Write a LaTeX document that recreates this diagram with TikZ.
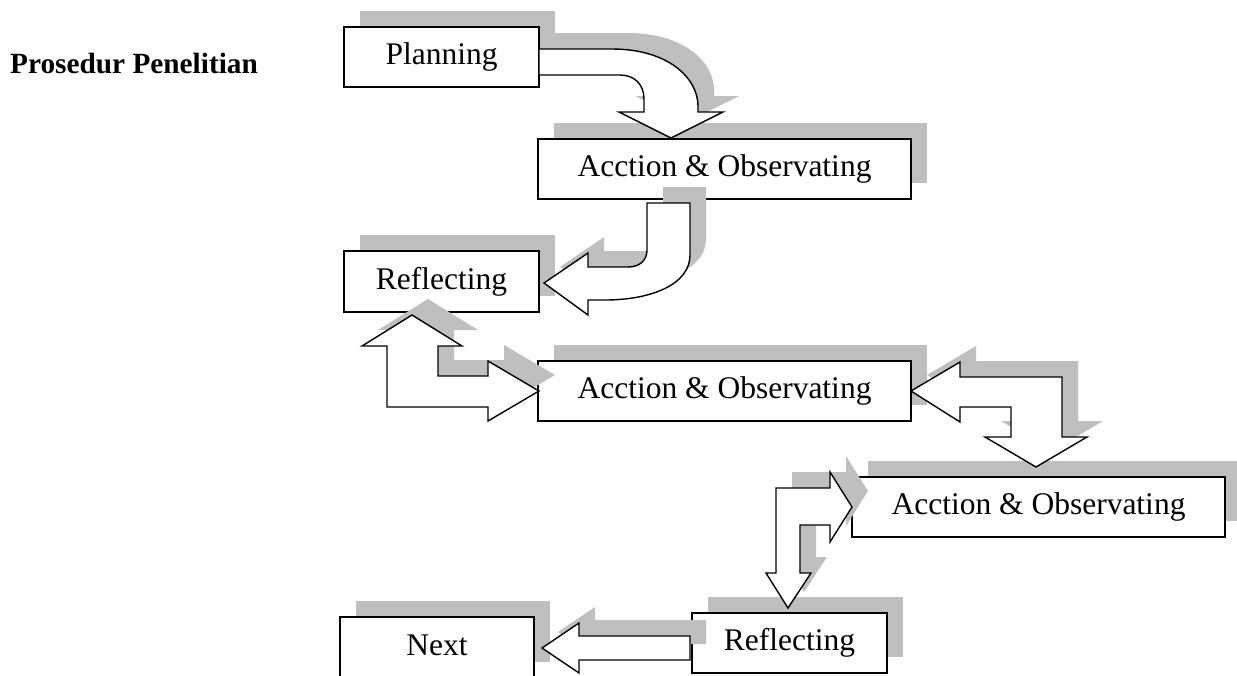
\documentclass[tikz,border=0pt]{standalone}
\usepackage{fontspec}
\setmainfont{Liberation Serif}
\definecolor{shadowgray}{RGB}{191,191,191}
\tikzset{
  box/.style={draw=black, fill=white, line width=1.4pt, inner sep=0pt,
    font=\fontsize{31.5pt}{36pt}\selectfont, text height=22pt, text depth=7pt},
  boxshadow/.style={fill=shadowgray, draw=none},
  blockarrow/.style={draw=black, fill=white, line width=1.4pt, line join=miter},
  arrowshadow/.style={fill=shadowgray, draw=none, shift={(16,-16)}},
}
\newcommand\pathA{(539,49) -- (612,49) .. controls (668,49) and (698,78) .. (698,106) -- (698,112) -- (723,112) -- (671,138) -- (619,112) -- (644,112) -- (644,99) .. controls (644,84) and (634,75) .. (620,75) -- (539,75) -- cycle}
\newcommand\pathB{(647,203) -- (690,203) -- (690,255) .. controls (690,285) and (650,300) .. (605,300) -- (588,300) -- (588,315) -- (544,283) -- (588,253) -- (588,267) -- (628,267) .. controls (640,267) and (647,260) .. (647,250) -- cycle}
\newcommand\pathC{(412,315) -- (462,346) -- (438,346) -- (438,376) -- (488,376) -- (488,361) -- (539,391) -- (488,421) -- (488,407) -- (387,407) -- (387,346) -- (362,346) -- cycle}
\newcommand\pathD{(911,391) -- (960,362) -- (960,377) -- (1062,377) -- (1062,437) -- (1087,437) -- (1036,467) -- (985,437) -- (1011,437) -- (1011,407) -- (960,407) -- (960,422) -- cycle}
\newcommand\pathE{(852,507) -- (830,472) -- (830,488) -- (776,488) -- (776,573) -- (766,573) -- (788,608) -- (811,573) -- (800,573) -- (800,525) -- (830,525) -- (830,542) -- cycle}
\newcommand\pathF{(542,648) -- (579,623) -- (579,636) -- (690,636) -- (690,660) -- (579,660) -- (579,673) -- cycle}
\begin{document}
\begin{tikzpicture}[x=1pt,y=-1pt]
\useasboundingbox (0,0) rectangle (1237,675);
\clip (0,0) rectangle (1237,675);
% title
\node[anchor=base west, inner sep=0pt, font=\fontsize{29.3pt}{34pt}\selectfont\bfseries] (title) at (10,73) {Prosedur Penelitian};
% box shadows
\fill[boxshadow] (360,11) rectangle (555,71);
\fill[boxshadow] (554,123) rectangle (927,183);
\fill[boxshadow] (360,235) rectangle (555,296);
\fill[boxshadow] (554,345) rectangle (927,405);
\fill[boxshadow] (868,461) rectangle (1241,521);
\fill[boxshadow] (708,597) rectangle (903,657);
\fill[boxshadow] (356,601) rectangle (550,662);
% boxes
\node[box, minimum width=195pt, minimum height=60pt] (plan) at (441.5,57) {Planning};
\node[box, minimum width=373pt, minimum height=60pt] (act1) at (724.5,169) {Acction \& Observating};
\node[box, minimum width=195pt, minimum height=61pt] (ref1) at (441.5,281.5) {Reflecting};
\node[box, minimum width=373pt, minimum height=60pt] (act2) at (724.5,391) {Acction \& Observating};
\node[box, minimum width=373pt, minimum height=60pt] (act3) at (1038.5,507) {Acction \& Observating};
\node[box, minimum width=195pt, minimum height=60pt] (ref2) at (789.5,643) {Reflecting};
\node[box, minimum width=194pt, minimum height=61pt] (next) at (437,647.5) {Next};
% arrow shadows
\fill[arrowshadow] \pathA;
\fill[arrowshadow] \pathB;
\fill[arrowshadow] \pathC;
\fill[arrowshadow] \pathD;
\fill[arrowshadow] \pathE;
\fill[arrowshadow] \pathF;
% block arrows
\filldraw[blockarrow] \pathA;
\filldraw[blockarrow] \pathB;
\filldraw[blockarrow] \pathC;
\filldraw[blockarrow] \pathD;
\filldraw[blockarrow] \pathE;
\filldraw[blockarrow] \pathF;
\end{tikzpicture}
\end{document}
